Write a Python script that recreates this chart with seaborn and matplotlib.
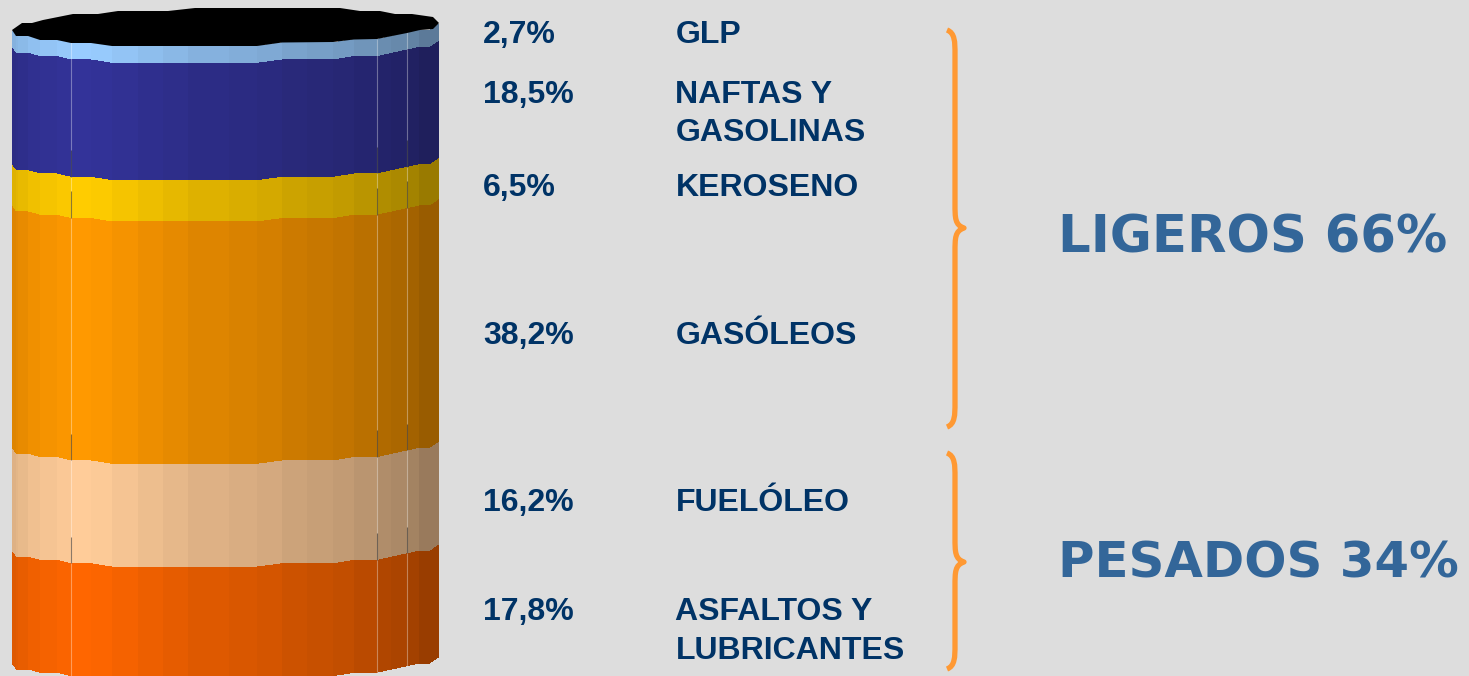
"""Composition of a barrel of crude: stacked cylinder with product shares."""

import numpy as np
import matplotlib.pyplot as plt
from matplotlib.colors import to_rgb
from matplotlib.patches import PathPatch
from matplotlib.path import Path
import seaborn as sns

# values, bottom of the cylinder first
products = ["ASFALTOS Y\nLUBRICANTES", "FUELÓLEO", "GASÓLEOS", "KEROSENO", "NAFTAS Y\nGASOLINAS", "GLP"]
shares = [17.8, 16.2, 38.2, 6.5, 18.5, 2.7]
share_labels = ["17,8%", "16,2%", "38,2%", "6,5%", "18,5%", "2,7%"]
band_colors = ["#FF6600", "#FFCC99", "#FF9900", "#FFCC00", "#333399", "#99CCFF"]
groups = ["LIGEROS 66%", "PESADOS 34%"]

# facets of the cylinder: edges in px and how much each one is shaded
facet_edges = [12, 16, 18, 28, 40, 57, 71, 91, 112, 138, 163, 188, 229, 257, 282, 307, 333, 354, 377, 391, 407, 419, 439]
facet_shade = [.87, .89, .91, .94, .96, .98, 1.0, .99, .96, .93, .90, .87, .85, .83, .80, .78, .76, .73, .69, .67, .64, .60]

# how far the front edge rises above its lowest point, px
curve_x = [12, 16, 28, 40, 57, 71, 91, 112, 257, 282, 333, 354, 377, 407, 420, 430, 439]
curve_up = [15.7, 10, 10, 6.7, 6.7, 3.3, 3.3, 0, 0, 3.3, 3.3, 6.7, 6.7, 13.3, 16, 16, 22.3]

# black top of the cylinder, px
rim_x = [12, 22, 32, 43, 73, 98, 118, 168, 195, 340, 360, 380, 395, 412, 433, 439, 433, 420, 407, 377, 354, 333, 282,
         257, 112, 91, 71, 57, 40, 28, 16]
rim_y = [30, 23, 23, 20, 14, 14, 11, 11, 8, 8, 11, 11, 14, 14, 17, 23, 29, 30, 33, 39, 39.5, 42, 42.5,
         46, 46, 43, 43, 40, 40, 36, 36]

PX_PER_PCT = 6.345
BASE_PX = 679.5


def to_pct(px):
    return (BASE_PX - np.asarray(px, dtype=float)) / PX_PER_PCT


def brace(ax, top, mid, bottom):
    x0, x1, tip = 947, 955, 964
    pts = [(x0, top), (x1, top + 3), (x1, top + 12), (x1, top + 24),
           (x1, mid - 24), (x1, mid - 10), (x1, mid - 3), (tip, mid),
           (x1, mid + 3), (x1, mid + 10), (x1, mid + 24),
           (x1, bottom - 24), (x1, bottom - 12), (x1, bottom - 3), (x0, bottom)]
    codes = [Path.MOVETO, Path.CURVE4, Path.CURVE4, Path.CURVE4,
             Path.LINETO, Path.CURVE4, Path.CURVE4, Path.CURVE4,
             Path.CURVE4, Path.CURVE4, Path.CURVE4,
             Path.LINETO, Path.CURVE4, Path.CURVE4, Path.CURVE4]
    verts = [(x, to_pct(y)) for x, y in pts]
    ax.add_patch(PathPatch(Path(verts, codes), fill=False, edgecolor="#FF9933", linewidth=3.8,
                           capstyle="butt", joinstyle="round"))


sns.set_theme(style="white")
fig = plt.figure(figsize=(14.69, 6.76), dpi=100, facecolor="#DDDDDD")
ax = fig.add_axes([0, 0, 1, 1])
ax.set_facecolor("#DDDDDD")

# one bar per pixel column so the band edges can follow the curve
columns = np.arange(12.5, 439.5)
rise = np.interp(columns, curve_x, curve_up) / PX_PER_PCT
shade = np.array(facet_shade)[np.clip(np.searchsorted(facet_edges, columns) - 1, 0, len(facet_shade) - 1)]

base = 0.0
band_bottoms = []
for share, color in zip(shares, band_colors):
    n_before = len(ax.patches)
    sns.barplot(x=columns, y=np.full(len(columns), share), bottom=base + rise, native_scale=True, orient="x",
                color=color, saturation=1, errorbar=None, width=1, linewidth=0, ax=ax)
    for patch, s in zip(ax.patches[n_before:], shade):
        patch.set_facecolor(tuple(np.array(to_rgb(color)) * s))
    band_bottoms.append(base)
    base += share

ax.fill(rim_x, to_pct(rim_y), color="black", linewidth=0, zorder=3)

# thin seams in the facets, light at the top of a band and dark near its lower edge
for x in [71.5, 377, 407.5]:
    up = np.interp(x, curve_x, curve_up) / PX_PER_PCT
    ax.vlines(x, band_bottoms[0] + up, band_bottoms[-1] + shares[-1] + up, color="white", alpha=.35, linewidth=.8, zorder=2)
    for b in band_bottoms[1:-1]:
        ax.vlines(x, b + up, b + up + 4.2, color="black", alpha=.45, linewidth=.8, zorder=2)

# labels
label_y = [620, 511, 344, 196, 103, 43]
line_px = [39, 0, 0, 0, 38, 0]
for name, label, y, pitch in zip(products, share_labels, label_y, line_px):
    ax.text(483, to_pct(y), label, fontsize=23, fontweight="bold", family="Liberation Sans", color="#003366", va="baseline")
    for i, part in enumerate(name.split("\n")):
        ax.text(675.5, to_pct(y + i * pitch), part, fontsize=23, fontweight="bold", family="Liberation Sans",
                color="#003366", va="baseline")

for text, y, size in zip(groups, [253, 578], [36.9, 35.8]):
    ax.text(1058, to_pct(y), text, fontsize=size, fontweight="bold", family="DejaVu Sans", color="#336699", va="baseline")

brace(ax, 30, 228, 427)
brace(ax, 453, 562, 669)

ax.set_xlim(0, 1469)
ax.set_ylim(to_pct(676), to_pct(0))
ax.set_axis_off()

fig.savefig("out.png", dpi=100, facecolor=fig.get_facecolor())
